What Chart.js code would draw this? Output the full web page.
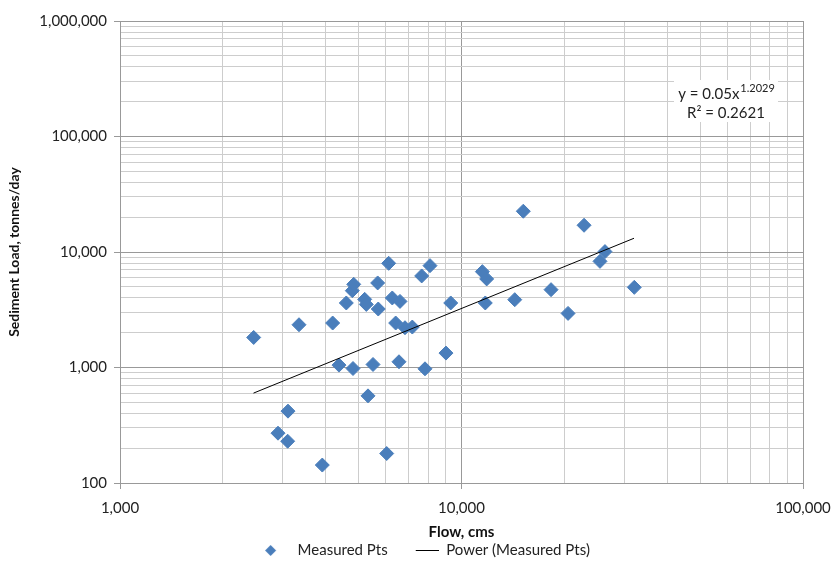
<!DOCTYPE html>
<html>
<head>
<meta charset="utf-8">
<script src="https://cdn.jsdelivr.net/npm/chart.js@4/dist/chart.umd.min.js"></script>
<style>
  html, body { margin: 0; padding: 0; background: #fff; }
  #wrap { width: 833px; height: 563px; }
</style>
</head>
<body>
<div id="wrap"><canvas id="chart" width="833" height="563"></canvas></div>
<script>
// measured points
const flow = [2463, 3343, 4195, 3104, 2902, 3097, 3912, 4378, 4812, 5507, 5324, 6039,
  4599, 4789, 4835, 5206, 5263, 5705, 5682, 6120, 6271, 6605, 6416, 6832, 7178, 6561,
  7818, 7645, 8087, 9299, 9006, 15170, 22850, 26310, 25440, 11510, 11850, 11740,
  14320, 18290, 20510, 32060];
const load = [1820, 2345, 2427, 419, 270, 230, 143, 1049, 980, 1062, 568, 180,
  3619, 4625, 5248, 3890, 3518, 3209, 5395, 7980, 3999, 3735, 2427, 2210, 2240, 1121,
  974, 6205, 7621, 3619, 1333, 22540, 17040, 10080, 8300, 6761, 5845, 3619,
  3865, 4720, 2940, 4943];

// power trendline end points
const trendFlow = [2460, 32000];
const trendLoad = [600, 13150];

const xTickValues = [1000, 10000, 100000];
const xTickLabels = ['1,000', '10,000', '100,000'];
const yTickValues = [100, 1000, 10000, 100000, 1000000];
const yTickLabels = ['100', '1,000', '10,000', '100,000', '1,000,000'];

const blue = '#4A7EBB';
const font = 'Lato, "Liberation Sans", sans-serif';
const legendBox = 47;

// 1..9 x 10^n grid
function logTicks(min, max) {
  const out = [];
  for (let e = Math.round(Math.log10(min)); e < Math.round(Math.log10(max)); e++) {
    for (let s = 1; s < 10; s++) out.push({ value: s * Math.pow(10, e), major: s === 1 });
  }
  out.push({ value: max, major: true });
  return out;
}

// legend icons: same width, mark placed inside the box
function diamondIcon() {
  const c = document.createElement('canvas');
  c.width = legendBox; c.height = 11;
  const g = c.getContext('2d');
  const cx = legendBox - 19.5;
  g.fillStyle = blue;
  g.beginPath();
  g.moveTo(cx, 0); g.lineTo(cx + 5.5, 5.5); g.lineTo(cx, 11); g.lineTo(cx - 5.5, 5.5);
  g.closePath(); g.fill();
  return c;
}
function lineIcon() {
  const c = document.createElement('canvas');
  c.width = legendBox; c.height = 1;
  const g = c.getContext('2d');
  g.fillStyle = '#000';
  g.fillRect(legendBox - 23, 0, 23, 1);
  return c;
}

const equationBox = {
  id: 'equationBox',
  afterDraw(chart) {
    const ctx = chart.ctx;
    const a = chart.chartArea;
    const cx = a.right - 77;
    ctx.save();
    ctx.fillStyle = '#fff';
    ctx.fillRect(cx - 52, 80, 104, 42);
    ctx.fillStyle = '#222';
    ctx.textBaseline = 'middle';
    ctx.font = '15px ' + font;
    const main = 'y = 0.05x';
    const sup = '1.2029';
    const mw = ctx.measureText(main).width;
    ctx.font = '11px ' + font;
    const sw = ctx.measureText(sup).width;
    let x = cx - (mw + sw) / 2;
    ctx.font = '15px ' + font;
    ctx.textAlign = 'left';
    ctx.fillText(main, x, 94);
    ctx.font = '11px ' + font;
    ctx.fillText(sup, x + mw + 1, 88);
    ctx.font = '15px ' + font;
    ctx.textAlign = 'center';
    ctx.fillText('R² = 0.2621', cx, 113);
    ctx.restore();
  }
};

function gridColor(ctx) {
  return ctx.tick && ctx.tick.major ? '#999999' : '#cdcdcd';
}
function tickColor(ctx) {
  return ctx.tick && ctx.tick.major ? '#999999' : 'rgba(0,0,0,0)';
}

new Chart(document.getElementById('chart'), {
  type: 'scatter',
  data: {
    datasets: [
      {
        label: 'Measured Pts',
        data: flow.map((f, i) => ({ x: f, y: load[i] })),
        pointStyle: 'rectRot',
        pointRadius: 7,
        pointHoverRadius: 7,
        backgroundColor: blue,
        borderColor: blue,
        borderWidth: 1,
        order: 2
      },
      {
        label: 'Power (Measured Pts)',
        type: 'line',
        data: trendFlow.map((f, i) => ({ x: f, y: trendLoad[i] })),
        borderColor: '#000',
        borderWidth: 1,
        pointRadius: 0,
        fill: false,
        order: 1
      }
    ]
  },
  options: {
    responsive: false,
    animation: false,
    events: [],
    layout: { padding: { left: 0, right: 0, top: 21, bottom: -5 } },
    scales: {
      x: {
        type: 'logarithmic',
        min: 1000,
        max: 100000,
        afterBuildTicks: s => { s.ticks = logTicks(1000, 100000); },
        afterFit: s => { s.height = 56; s.paddingRight = 30; },
        grid: { color: gridColor, tickColor: tickColor, tickLength: 6, lineWidth: 1 },
        border: { color: '#999999' },
        ticks: {
          autoSkip: false,
          maxRotation: 0,
          padding: 10,
          color: '#222',
          font: { family: font, size: 15 },
          callback: v => { const i = xTickValues.indexOf(v); return i < 0 ? '' : xTickLabels[i]; }
        },
        title: { display: true, text: 'Flow, cms', color: '#111', padding: { top: 0, bottom: -2 }, font: { family: font, size: 15, weight: 'bold' } }
      },
      y: {
        type: 'logarithmic',
        min: 100,
        max: 1000000,
        afterBuildTicks: s => { s.ticks = logTicks(100, 1000000); },
        afterFit: s => { s.width = 120; },
        grid: { color: gridColor, tickColor: tickColor, tickLength: 6, lineWidth: 1 },
        border: { color: '#999999' },
        ticks: {
          autoSkip: false,
          padding: 7,
          color: '#222',
          font: { family: font, size: 15 },
          callback: v => { const i = yTickValues.indexOf(v); return i < 0 ? '' : yTickLabels[i]; }
        },
        title: { display: true, text: 'Sediment Load, tonnes/day', color: '#111', padding: { top: 6, bottom: 0 }, font: { family: font, size: 14, weight: 'bold' } }
      }
    },
    plugins: {
      tooltip: { enabled: false },
      legend: {
        position: 'bottom',
        labels: {
          usePointStyle: true,
          pointStyleWidth: legendBox,
          padding: 4,
          color: '#222',
          font: { family: font, size: 15 },
          generateLabels: chart => chart.data.datasets.map((d, i) => ({
            text: d.label,
            datasetIndex: i,
            pointStyle: i === 0 ? diamondIcon() : lineIcon(),
            fillStyle: i === 0 ? blue : '#000',
            strokeStyle: i === 0 ? blue : '#000',
            lineWidth: 0,
            fontColor: '#222',
            hidden: false
          }))
        }
      }
    }
  },
  plugins: [equationBox]
});
</script>
</body>
</html>
